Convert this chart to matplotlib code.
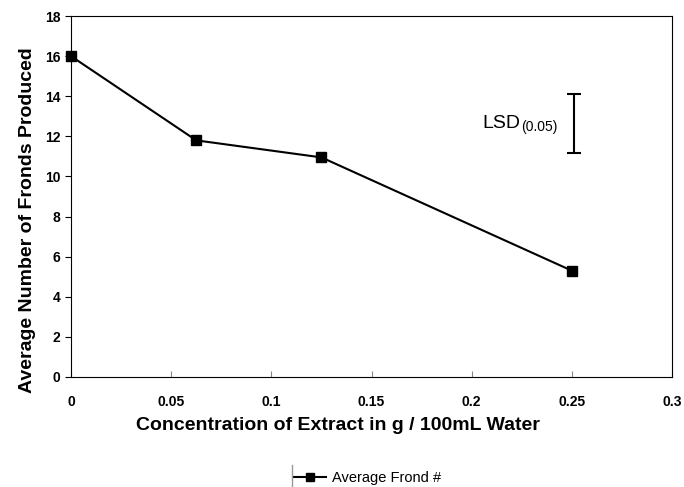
import matplotlib
matplotlib.use("Agg")
import matplotlib.pyplot as plt
from matplotlib.lines import Line2D

plt.rcParams['font.family'] = ['Liberation Sans', 'DejaVu Sans']

conc = [0, 0.0625, 0.125, 0.25]
fronds = [16, 11.8, 10.95, 5.3]
lsd_x = 0.251
lsd_lo = 11.15
lsd_hi = 14.1

fig = plt.figure(figsize=(6.84, 4.87), dpi=100)
ax = fig.add_axes([0.1038, 0.2259, 0.8787, 0.7412])

ax.plot(conc, fronds, color='black', lw=1.5, marker='s', markersize=7,
        label='Average Frond #', clip_on=False, zorder=5)

# LSD bar
ax.errorbar([lsd_x], [(lsd_lo + lsd_hi) / 2], yerr=[(lsd_hi - lsd_lo) / 2],
            fmt='none', ecolor='black', elinewidth=1.5, capsize=5, capthick=1.5)
ax.text(0.2245, 12.65, 'LSD', fontsize=14, ha='right', va='center')
ax.text(0.2245, 12.45, '(0.05)', fontsize=10, ha='left', va='center')

ax.set_xlim(0, 0.3)
ax.set_ylim(0, 18)
ax.set_xticks([0, 0.05, 0.1, 0.15, 0.2, 0.25, 0.3])
ax.set_xticklabels(['0', '0.05', '0.1', '0.15', '0.2', '0.25', '0.3'])
ax.set_yticks(range(0, 19, 2))
ax.tick_params(axis='x', direction='in', length=4, pad=13, labelsize=10,
               color='#888888')
ax.tick_params(axis='y', direction='out', length=4, labelsize=10)
for lbl in ax.get_xticklabels() + ax.get_yticklabels():
    lbl.set_fontweight('bold')

ax.set_xlabel('Concentration of Extract in g / 100mL Water', fontsize=14,
              fontweight='bold')
ax.set_ylabel('Average Number of Fronds Produced', fontsize=14,
              fontweight='bold')
ax.xaxis.set_label_coords(0.444, -0.11)
ax.yaxis.set_label_coords(-0.059, 0.435)

leg = ax.legend(loc='center', bbox_to_anchor=(0.494, -0.28), frameon=False,
                fontsize=10.5, handlelength=2.2, handletextpad=0.4, markerscale=0.85)

fig.add_artist(Line2D([292 / 684, 292 / 684], [0.0, 1 - 465 / 487],
                      color='#999999', lw=1))

plt.savefig('out.png', dpi=100)
